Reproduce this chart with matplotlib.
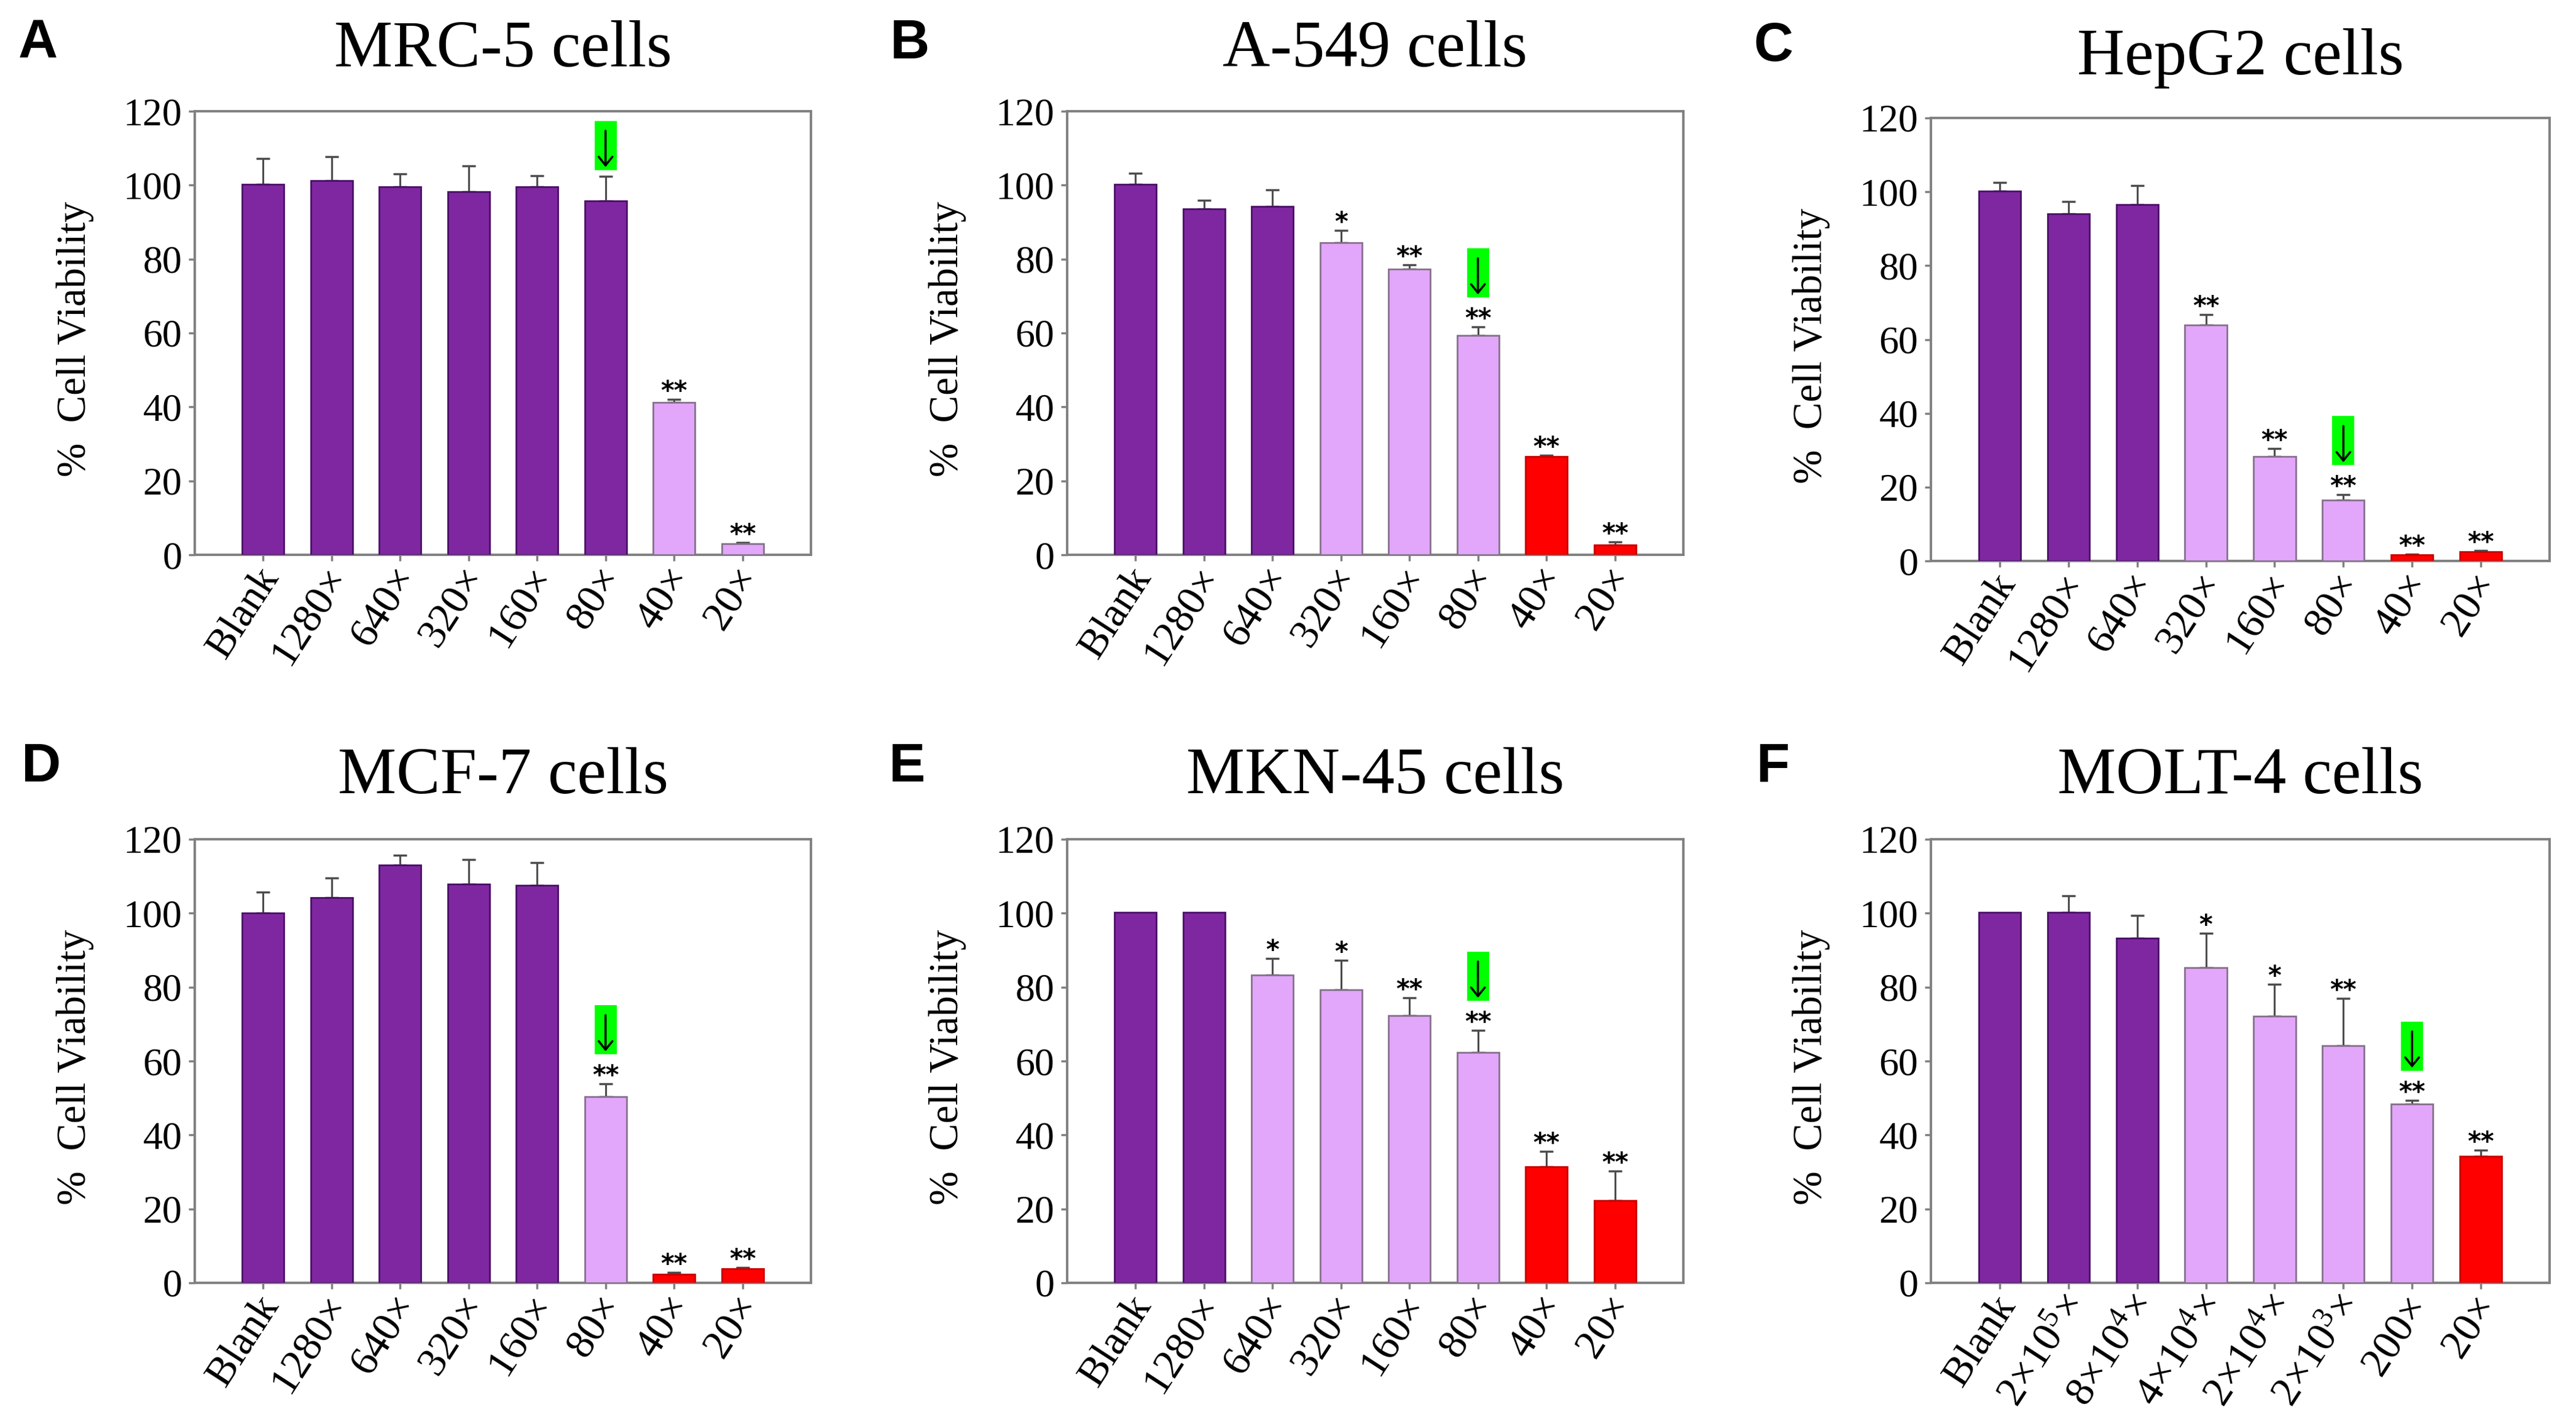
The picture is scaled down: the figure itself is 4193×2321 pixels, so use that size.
import matplotlib
matplotlib.use('Agg')
import matplotlib.pyplot as plt
import matplotlib.transforms as mtrans
from matplotlib.patches import Rectangle

SERIF = ['Liberation Serif', 'DejaVu Serif']
plt.rcParams['font.family'] = SERIF
plt.rcParams['font.serif'] = ['Liberation Serif', 'DejaVu Serif']
plt.rcParams['mathtext.fontset'] = 'custom'
plt.rcParams['mathtext.rm'] = 'Liberation Serif'
plt.rcParams['mathtext.it'] = 'Liberation Serif:italic'
plt.rcParams['mathtext.bf'] = 'Liberation Serif:bold'

# ---------------- data ----------------
labels_std = ['Blank', '1280×', '640×', '320×', '160×', '80×', '40×', '20×']
labels_molt = ['Blank', '2×10$^{5}$×', '8×10$^{4}$×', '4×10$^{4}$×',
               '2×10$^{4}$×', '2×10$^{3}$×', '200×', '20×']

titles = ['MRC-5 cells', 'A-549 cells', 'HepG2 cells',
          'MCF-7 cells', 'MKN-45 cells', 'MOLT-4 cells']
letters = ['A', 'B', 'C', 'D', 'E', 'F']

A_vals = [100.2, 101.2, 99.5, 98.2, 99.5, 95.7, 41.2, 3.0]
A_err = [7.0, 6.5, 3.6, 7.0, 3.0, 6.7, 0.8, 0.4]
A_grp = ['d', 'd', 'd', 'd', 'd', 'd', 'l', 'l']
A_sig = ['', '', '', '', '', '', '**', '**']

B_vals = [100.2, 93.6, 94.3, 84.4, 77.3, 59.3, 26.6, 2.7]
B_err = [3.0, 2.3, 4.5, 3.3, 1.1, 2.3, 0.4, 0.8]
B_grp = ['d', 'd', 'd', 'l', 'l', 'l', 'r', 'r']
B_sig = ['', '', '', '*', '**', '**', '**', '**']

C_vals = [100.2, 94.0, 96.6, 63.9, 28.3, 16.4, 1.6, 2.5]
C_err = [2.4, 3.4, 5.1, 2.9, 2.1, 1.5, 0.3, 0.4]
C_grp = ['d', 'd', 'd', 'l', 'l', 'l', 'r', 'r']
C_sig = ['', '', '', '**', '**', '**', '**', '**']

D_vals = [100.1, 104.2, 113.1, 107.8, 107.5, 50.3, 2.4, 3.8]
D_err = [5.6, 5.3, 2.5, 6.7, 6.2, 3.5, 0.5, 0.4]
D_grp = ['d', 'd', 'd', 'd', 'd', 'l', 'r', 'r']
D_sig = ['', '', '', '', '', '**', '**', '**']

E_vals = [100.2, 100.2, 83.3, 79.2, 72.3, 62.4, 31.4, 22.2]
E_err = [0.0, 0.0, 4.4, 8.1, 4.8, 5.9, 4.1, 8.0]
E_grp = ['d', 'd', 'l', 'l', 'l', 'l', 'r', 'r']
E_sig = ['', '', '*', '*', '**', '**', '**', '**']

F_vals = [100.3, 100.3, 93.2, 85.2, 72.2, 64.2, 48.3, 34.2]
F_err = [0.0, 4.4, 6.2, 9.3, 8.6, 12.7, 1.1, 1.7]
F_grp = ['d', 'd', 'd', 'l', 'l', 'l', 'l', 'r']
F_sig = ['', '', '', '*', '*', '**', '**', '**']

arrow_idx = [5, 5, 5, 5, 5, 6]

panels = [
    (A_vals, A_err, A_grp, A_sig, labels_std),
    (B_vals, B_err, B_grp, B_sig, labels_std),
    (C_vals, C_err, C_grp, C_sig, labels_std),
    (D_vals, D_err, D_grp, D_sig, labels_std),
    (E_vals, E_err, E_grp, E_sig, labels_std),
    (F_vals, F_err, F_grp, F_sig, labels_molt),
]

# ---------------- layout (pixels) ----------------
W, H = 4193, 2321
DPI = 100
boxes = [  # left, top, right, bottom
    (317, 181, 1320, 903),
    (1737, 181, 2740, 903),
    (3143, 192, 4150, 913),
    (317, 1366, 1320, 2088),
    (1737, 1366, 2740, 2088),
    (3143, 1366, 4150, 2088),
]
title_base = [108, 108, 121, 1291, 1291, 1291]
letter_pos = [(62, 95), (1481, 95), (2886, 99), (67, 1272), (1477, 1272), (2886, 1272)]

fill = {'d': '#7F27A0', 'l': '#E2A6FA', 'r': '#FF0000'}
edge = {'d': '#4A0F68', 'l': '#85718C', 'r': '#C80000'}
SP = '#808080'

fig = plt.figure(figsize=(W / DPI, H / DPI), dpi=DPI)
shift = mtrans.ScaledTranslation(12 / DPI, 0, fig.dpi_scale_trans)

for k, (vals, errs, grp, sig, labs) in enumerate(panels):
    l, t, r, b = boxes[k]
    ax = fig.add_axes([l / W, 1 - b / H, (r - l) / W, (b - t) / H])
    x = list(range(len(vals)))
    ax.bar(x, vals, width=0.61, color=[fill[g] for g in grp],
           edgecolor=[edge[g] for g in grp], linewidth=2.0, zorder=3)
    for i in x:
        if errs[i] > 0:
            ax.errorbar(i, vals[i], yerr=[[0], [errs[i]]], fmt='none',
                        ecolor='#4d4d4d', elinewidth=2.2, capsize=8,
                        capthick=2.5, zorder=2)
    ax.set_xlim(-1, 8)
    ax.set_ylim(0, 120)
    ax.set_yticks([0, 20, 40, 60, 80, 100, 120])
    ax.set_yticklabels(['0', '20', '40', '60', '80', '100', '120'],
                       family=SERIF, fontsize=46)
    for s in ax.spines.values():
        s.set_color(SP)
        s.set_linewidth(2.8)
    ax.tick_params(axis='both', direction='out', length=7, width=2.5,
                   color=SP)
    ax.tick_params(axis='y', pad=8)
    ax.tick_params(axis='x', pad=12)
    ax.set_xticks(x)
    ax.set_xticklabels(labs, rotation=57, ha='right', va='center',
                       rotation_mode='anchor', family=SERIF, fontsize=49)
    for lab in ax.get_xticklabels():
        lab.set_transform(lab.get_transform() + shift)

    ppx = (r - l) / 9.0
    ppy = (b - t) / 120.0
    for i in x:
        if sig[i]:
            ax.annotate(sig[i], xy=(i, vals[i] + errs[i]), xytext=(0, 0),
                        textcoords='offset points', ha='center', va='baseline',
                        fontsize=30, fontweight='bold', family='DejaVu Sans',
                        zorder=5)
    ia = arrow_idx[k]
    top = vals[ia] + errs[ia]
    off = 48 if sig[ia] else 10
    y0 = top + off / ppy
    bh = 80 / ppy
    bw = 36 / ppx
    ax.add_patch(Rectangle((ia - bw / 2, y0), bw, bh, facecolor='#00FF00',
                           edgecolor='none', zorder=6, clip_on=False))
    ax.annotate('', xy=(ia, y0 + 5 / ppy), xytext=(ia, y0 + 64 / ppy),
                arrowprops=dict(arrowstyle='->,head_length=0.5,head_width=0.4',
                                lw=2.5, color='black', shrinkA=0, shrinkB=0,
                                mutation_scale=20), zorder=7)

    fig.text(((l + r) / 2) / W, 1 - title_base[k] / H, titles[k],
             ha='center', va='baseline', fontsize=77, family=SERIF)
    lx, ly = letter_pos[k]
    fig.text(lx / W, 1 - ly / H, letters[k], ha='center', va='baseline',
             fontsize=64, fontweight='bold',
             family=['Liberation Sans', 'DejaVu Sans'])
    fig.text((l - 195) / W, 1 - ((t + b) / 2 + 10) / H, '%  Cell Viability',
             rotation=90, ha='center', va='center', fontsize=48, family=SERIF)

fig.savefig('out.png', dpi=DPI, facecolor='white')
